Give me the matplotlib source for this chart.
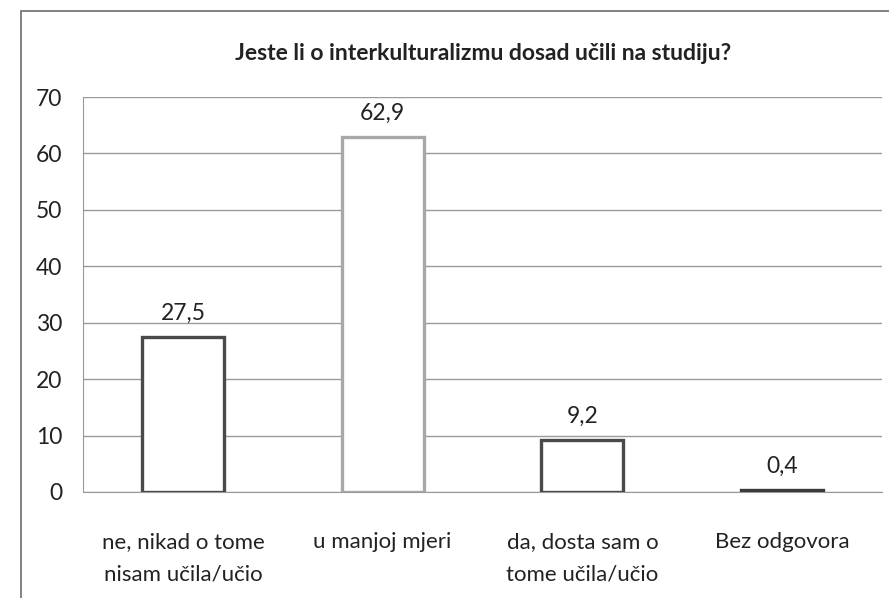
import matplotlib.pyplot as plt
from matplotlib.patches import Rectangle

categories = ['ne, nikad o tome\nnisam učila/učio', 'u manjoj mjeri',
              'da, dosta sam o\ntome učila/učio', 'Bez odgovora']
values = [27.5, 62.9, 9.2, 0.4]
value_labels = ['27,5', '62,9', '9,2', '0,4']
edge_colors = ['#4a4a4a', '#a8a8a8', '#4a4a4a', '#3a3a3a']
yticks = [0, 10, 20, 30, 40, 50, 60, 70]

plt.rcParams['font.family'] = ['Lato', 'DejaVu Sans']

fig = plt.figure(figsize=(8.89, 5.98), dpi=100)
W, H = 889, 598
ax = fig.add_axes([83 / W, 1 - 492 / H, (882 - 83) / W, (492 - 97) / H])

# outer frame of the chart (cut off on the right and bottom)
fig.patches.append(Rectangle((21 / W, -0.05), 1.2, 1 - 11 / H + 0.05,
                             transform=fig.transFigure, fill=False,
                             edgecolor='#777777', linewidth=1.3))

x = range(len(values))
for i, v in enumerate(values):
    face = edge_colors[i] if v < 1 else 'white'
    ax.bar(i, v, width=0.41, color=face, edgecolor=edge_colors[i],
           linewidth=2.4, zorder=3)
    ax.text(i, v + 2.3, value_labels[i], ha='center', va='bottom',
            fontsize=16.5, color='#222222')

ax.set_xlim(-0.5, 3.5)
ax.set_ylim(0, 70)
ax.set_yticks(yticks)
ax.set_yticklabels([str(t) for t in yticks], fontsize=16.5, color='#222222')
ax.set_xticks(list(x))
ax.set_xticklabels(categories, fontsize=16, color='#222222', linespacing=1.75)
ax.tick_params(axis='y', length=0, pad=15)
ax.tick_params(axis='x', length=0, pad=29)
ax.grid(axis='y', color='#9a9a9a', linewidth=1.0, zorder=0)
for s in ['top', 'right']:
    ax.spines[s].set_visible(False)
ax.spines['left'].set_color('#9a9a9a')
ax.spines['bottom'].set_color('#9a9a9a')

fig.text(483 / W, 1 - 54 / H, 'Jeste li o interkulturalizmu dosad učili na studiju?',
         ha='center', va='center', fontsize=16.5, fontweight='bold', color='#222222')

fig.savefig('out.png', dpi=100)
